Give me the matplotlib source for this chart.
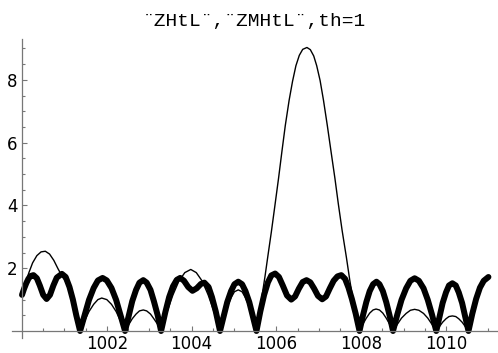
import numpy as np
import matplotlib
matplotlib.use('Agg')
import matplotlib.pyplot as plt
from matplotlib.ticker import MultipleLocator, FixedLocator

# thick curve |ZM(t)|
t_zm = [1000.00, 1000.05, 1000.10, 1000.15, 1000.20, 1000.27, 1000.35, 1000.42, 1000.50, 1000.58,
        1000.66, 1000.74, 1000.82, 1000.94, 1001.03, 1001.12, 1001.20, 1001.28, 1001.37,
        1001.48, 1001.58, 1001.69, 1001.79, 1001.90, 1002.00, 1002.11, 1002.22, 1002.32, 1002.43,
        1002.52, 1002.60, 1002.69, 1002.77, 1002.86, 1002.94, 1003.03, 1003.11, 1003.20, 1003.28,
        1003.38, 1003.47, 1003.56, 1003.65, 1003.73, 1003.82, 1003.92, 1004.02, 1004.12, 1004.22,
        1004.30, 1004.40, 1004.48, 1004.57, 1004.67,
        1004.76, 1004.84, 1004.93, 1005.01, 1005.10, 1005.19, 1005.27, 1005.36, 1005.44, 1005.53,
        1005.62, 1005.71, 1005.80, 1005.88, 1005.97, 1006.06, 1006.15, 1006.25, 1006.35, 1006.44,
        1006.53, 1006.62, 1006.71, 1006.80, 1006.89, 1006.98, 1007.08, 1007.17, 1007.26, 1007.35,
        1007.44, 1007.53, 1007.62, 1007.70, 1007.78, 1007.87, 1007.96,
        1008.04, 1008.12, 1008.20, 1008.28, 1008.36, 1008.43, 1008.51, 1008.59, 1008.67, 1008.75,
        1008.85, 1008.95, 1009.06, 1009.16, 1009.26, 1009.36, 1009.47, 1009.57, 1009.67, 1009.77,
        1009.85, 1009.92, 1010.00, 1010.07, 1010.15, 1010.23, 1010.30, 1010.38, 1010.45, 1010.53,
        1010.62, 1010.71, 1010.80, 1010.89, 1011.00]
v_zm = [1.15, 1.35, 1.52, 1.66, 1.75, 1.78, 1.68, 1.45, 1.15, 1.02,
        1.15, 1.45, 1.70, 1.82, 1.72, 1.40, 1.00, 0.50, 0.00,
        0.52, 0.99, 1.37, 1.61, 1.69, 1.61, 1.37, 0.99, 0.52, 0.00,
        0.50, 0.95, 1.31, 1.54, 1.62, 1.54, 1.31, 0.95, 0.50, 0.00,
        0.60, 1.08, 1.42, 1.63, 1.69, 1.60, 1.40, 1.28, 1.36, 1.50,
        1.54, 1.40, 1.08, 0.62, 0.00,
        0.49, 0.92, 1.27, 1.49, 1.57, 1.49, 1.27, 0.92, 0.49, 0.00,
        0.62, 1.15, 1.55, 1.77, 1.83, 1.72, 1.45, 1.13, 1.00, 1.10,
        1.35, 1.56, 1.62, 1.55, 1.35, 1.12, 1.01, 1.10, 1.36, 1.60,
        1.74, 1.78, 1.66, 1.38, 1.02, 0.55, 0.00,
        0.49, 0.92, 1.27, 1.49, 1.57, 1.49, 1.27, 0.92, 0.49, 0.00,
        0.52, 0.99, 1.36, 1.60, 1.68, 1.60, 1.36, 0.99, 0.52, 0.00,
        0.47, 0.89, 1.23, 1.45, 1.52, 1.45, 1.23, 0.89, 0.47, 0.00,
        0.55, 1.02, 1.38, 1.60, 1.72]

# thin curve |Z(t)|
t_z = [1000.00, 1000.08, 1000.16, 1000.25, 1000.35, 1000.45, 1000.55, 1000.65, 1000.75, 1000.85,
       1000.94, 1001.03, 1001.12, 1001.20, 1001.28, 1001.37,
       1001.48, 1001.58, 1001.69, 1001.79, 1001.88, 1002.00, 1002.11, 1002.22, 1002.32, 1002.43,
       1002.52, 1002.60, 1002.69, 1002.77, 1002.86, 1002.94, 1003.03, 1003.11, 1003.20, 1003.28,
       1003.42, 1003.56, 1003.70, 1003.84, 1003.98, 1004.11, 1004.25, 1004.39, 1004.53, 1004.67,
       1004.76, 1004.84, 1004.93, 1005.01, 1005.10, 1005.19, 1005.27, 1005.36, 1005.44, 1005.53,
       1005.63, 1005.73, 1005.80, 1005.88, 1005.96, 1006.05, 1006.13, 1006.21, 1006.30, 1006.38,
       1006.46, 1006.54, 1006.62, 1006.72, 1006.80, 1006.88, 1006.95, 1007.03, 1007.11, 1007.20,
       1007.29, 1007.38, 1007.46, 1007.55, 1007.65, 1007.73, 1007.80, 1007.88, 1007.96,
       1008.04, 1008.12, 1008.20, 1008.28, 1008.35, 1008.43, 1008.51, 1008.59, 1008.67, 1008.75,
       1008.85, 1008.95, 1009.06, 1009.16, 1009.26, 1009.36, 1009.47, 1009.57, 1009.67, 1009.77,
       1009.85, 1009.92, 1010.00, 1010.07, 1010.15, 1010.23, 1010.30, 1010.38, 1010.45, 1010.53,
       1010.62, 1010.71, 1010.80, 1010.89, 1011.00]
v_z = [1.15, 1.50, 1.85, 2.17, 2.40, 2.52, 2.54, 2.45, 2.25, 1.98,
       1.76, 1.58, 1.30, 0.95, 0.48, 0.00,
       0.33, 0.62, 0.85, 1.00, 1.05, 1.00, 0.85, 0.62, 0.33, 0.00,
       0.21, 0.39, 0.54, 0.64, 0.67, 0.64, 0.54, 0.39, 0.21, 0.00,
       0.61, 1.15, 1.59, 1.86, 1.96, 1.86, 1.59, 1.15, 0.61, 0.00,
       0.40, 0.77, 1.06, 1.25, 1.31, 1.25, 1.06, 0.77, 0.40, 0.00,
       0.85, 1.73, 2.40, 3.15, 3.95, 4.86, 5.72, 6.55, 7.35, 7.95,
       8.45, 8.78, 8.97, 9.03, 8.96, 8.76, 8.45, 7.98, 7.35, 6.55,
       5.70, 4.86, 4.05, 3.20, 2.35, 1.62, 1.05, 0.50, 0.00,
       0.22, 0.41, 0.57, 0.67, 0.70, 0.67, 0.57, 0.41, 0.22, 0.00,
       0.21, 0.41, 0.56, 0.66, 0.69, 0.66, 0.56, 0.41, 0.21, 0.00,
       0.15, 0.28, 0.39, 0.46, 0.48, 0.46, 0.39, 0.28, 0.15, 0.00,
       0.50, 0.95, 1.30, 1.55, 1.70]

x_major = [1002, 1004, 1006, 1008, 1010]
y_major = [2, 4, 6, 8]
title = '\u00a8ZHtL\u00a8,\u00a8ZMHtL\u00a8,th=1'

fig = plt.figure(figsize=(4.98, 3.53), dpi=100)
ax = fig.add_axes([12/498, 15/353, 486/498, 299/353])

ax.plot(t_zm, v_zm, color='black', lw=4.3, solid_capstyle='round', solid_joinstyle='round')
ax.plot(t_z, v_z, color='black', lw=1.0)

ax.set_xlim(999.764, 1011.226)
ax.set_ylim(-0.223, 9.30)

#Mathematica style axes crossing at (1000, 0)
for s in ['top', 'right']:
    ax.spines[s].set_visible(False)
ax.spines['left'].set_position(('data', 1000))
ax.spines['bottom'].set_position(('data', 0))
for s in ['left', 'bottom']:
    ax.spines[s].set_color('#777777')
    ax.spines[s].set_linewidth(0.9)

ax.xaxis.set_major_locator(FixedLocator(x_major))
ax.yaxis.set_major_locator(FixedLocator(y_major))
ax.xaxis.set_minor_locator(FixedLocator(np.arange(1000.5, 1011.1, 0.5)))
ax.yaxis.set_minor_locator(FixedLocator(np.arange(0.5, 9.1, 0.5)))
ax.tick_params(which='both', direction='in', color='#777777', width=0.8)
ax.tick_params(which='major', length=3.5, labelsize=12, pad=3)
ax.tick_params(which='minor', length=2.2)
ax.set_xticklabels([str(v) for v in x_major])
ax.set_yticklabels([str(v) for v in y_major])

fig.text(254/498, 0.9385, title, ha='center', va='center',
         fontsize=14, family='Liberation Mono')

plt.savefig('out.png', dpi=100)
